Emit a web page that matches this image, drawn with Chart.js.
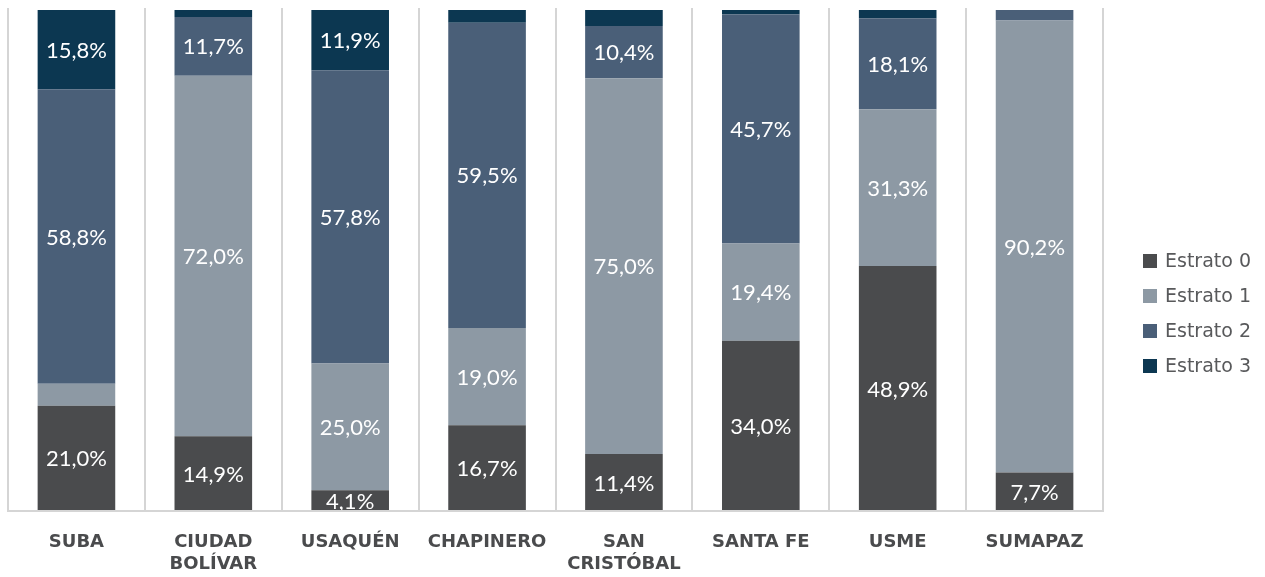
<!DOCTYPE html>
<html>
<head>
<meta charset="utf-8">
<script src="https://cdn.jsdelivr.net/npm/chart.js@4"></script>
<style>
  html, body { margin: 0; padding: 0; background: #fff; }
  #wrap { width: 1265px; height: 577px; }
</style>
</head>
<body>
<div id="wrap"><canvas id="chart"></canvas></div>
<script>
const categories = ['SUBA', ['CIUDAD', 'BOLÍVAR'], 'USAQUÉN', 'CHAPINERO', ['SAN', 'CRISTÓBAL'], 'SANTA FE', 'USME', 'SUMAPAZ'];
const seriesNames = ['Estrato 0', 'Estrato 1', 'Estrato 2', 'Estrato 3'];

// percentages per localidad (unlabelled pieces)
const estrato0 = [21.0, 14.9, 4.1, 16.7, 11.4, 34.0, 48.9, 7.7];
const estrato1 = [4.4, 72.0, 25.0, 19.0, 75.0, 19.4, 31.3, 90.2];
const estrato2 = [58.8, 11.7, 57.8, 59.5, 10.4, 45.7, 18.1, 2.1];
const estrato3 = [15.8, 1.4, 11.9, 2.5, 3.2, 0.9, 1.7, 0];

// which pieces carry a value label
const labels0 = [1, 1, 1, 1, 1, 1, 1, 1];
const labels1 = [0, 1, 1, 1, 1, 1, 1, 1];
const labels2 = [1, 1, 1, 1, 1, 1, 1, 0];
const labels3 = [1, 0, 1, 0, 0, 0, 0, 0];

const colors = ['#4a4b4d', '#8d99a4', '#4a5f78', '#0c3751'];

const raw = [estrato0, estrato1, estrato2, estrato3];
const flags = [labels0, labels1, labels2, labels3];
const totals = categories.map((c, i) => raw.reduce((s, arr) => s + arr[i], 0));

const datasets = raw.map((arr, k) => ({
  label: seriesNames[k],
  data: arr.map((v, i) => (v / totals[i]) * 100),
  raw: arr,
  flags: flags[k],
  backgroundColor: colors[k],
  borderWidth: 0,
  categoryPercentage: 1,
  barPercentage: 0.567,
}));

const valueLabels = {
  id: 'valueLabels',
  afterDatasetsDraw(chart) {
    const ctx = chart.ctx;
    ctx.save();
    ctx.fillStyle = '#ffffff';
    ctx.font = '22px Lato';
    ctx.textAlign = 'center';
    ctx.textBaseline = 'middle';
    chart.data.datasets.forEach((ds, k) => {
      chart.getDatasetMeta(k).data.forEach((bar, i) => {
        if (!ds.flags[i]) return;
        const txt = ds.raw[i].toFixed(1).replace('.', ',') + '%';
        ctx.fillText(txt, bar.x, (bar.y + bar.base) / 2 + 1);
      });
    });
    ctx.restore();
  },
};

const sideLegend = {
  id: 'sideLegend',
  afterDraw(chart) {
    const ctx = chart.ctx;
    ctx.save();
    ctx.font = '19px "DejaVu Sans"';
    ctx.textBaseline = 'middle';
    chart.data.datasets.forEach((ds, k) => {
      const y = 261 + k * 35;
      ctx.fillStyle = ds.backgroundColor;
      ctx.fillRect(1143, y - 7, 14, 14);
      ctx.fillStyle = '#58595b';
      ctx.fillText(ds.label, 1165, y + 1);
    });
    ctx.restore();
  },
};

new Chart(document.getElementById('chart'), {
  type: 'bar',
  data: { labels: categories, datasets },
  options: {
    responsive: true,
    maintainAspectRatio: false,
    animation: false,
    layout: { padding: { left: 8, right: 162, top: 8, bottom: 0 } },
    plugins: {
      legend: { display: false },
      tooltip: { enabled: false },
    },
    scales: {
      x: {
        stacked: true,
        afterFit(scale) { scale.height = 66; },
        grid: { display: true, offset: true, color: '#d5d5d5', lineWidth: 2, drawTicks: false },
        border: { display: true, color: '#d5d5d5', width: 2, z: 1 },
        ticks: {
          color: '#4a4b4d',
          font: { family: 'DejaVu Sans', size: 18, weight: 'bold', lineHeight: 1.22 },
          padding: 20,
          maxRotation: 0,
          autoSkip: false,
        },
      },
      y: {
        stacked: true,
        display: false,
        min: 0,
        max: 100.4,
      },
    },
  },
  plugins: [valueLabels, sideLegend],
});
</script>
</body>
</html>
